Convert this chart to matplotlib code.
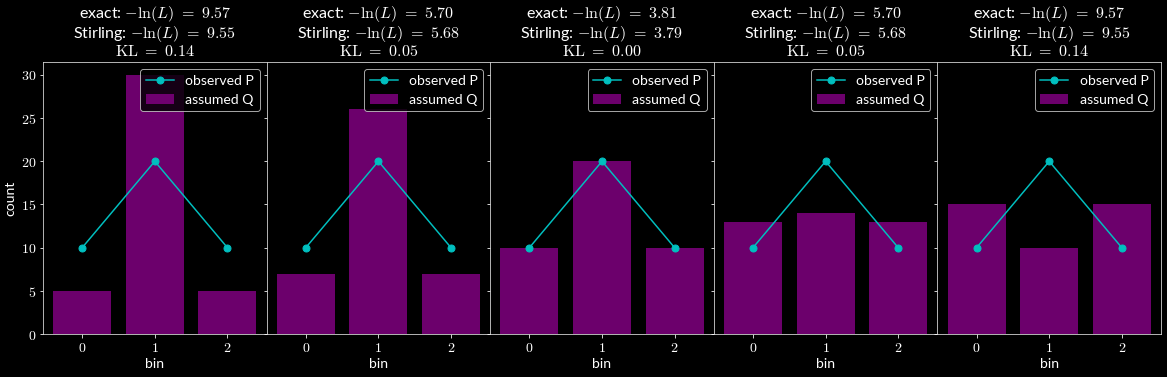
import matplotlib
matplotlib.use("Agg")
import matplotlib.pyplot as plt
from matplotlib.ticker import FuncFormatter
import numpy as np

plt.style.use("dark_background")
plt.rcParams["mathtext.fontset"] = "cm"
plt.rcParams["font.family"] = ["Lato", "DejaVu Sans"]

bins = [0, 1, 2]
observed_P = [10, 20, 10]
assumed_Q = [
    [5, 30, 5],
    [7, 26, 7],
    [10, 20, 10],
    [13, 14, 13],
    [15, 10, 15],
]
exact_nll = ["9.57", "5.70", "3.81", "5.70", "9.57"]
stirling_nll = ["9.55", "5.68", "3.79", "5.68", "9.55"]
kl_vals = ["0.14", "0.05", "0.00", "0.05", "0.14"]

fig, axes = plt.subplots(1, 5, figsize=(1167 / 72, 377 / 72), dpi=72, sharey=True)
fig.subplots_adjust(left=43 / 1167, right=1161 / 1167, top=1 - 62 / 377,
                    bottom=1 - 334 / 377, wspace=0)

mathfmt = FuncFormatter(lambda v, pos: f"${v:g}$")

for i, ax in enumerate(axes):
    ax.bar(bins, assumed_Q[i], width=0.8, color="purple", alpha=0.85, label="assumed Q")
    ax.plot(bins, observed_P, "-o", color="c", markersize=7, linewidth=1.5, label="observed P")
    ax.set_xticks(bins)
    ax.xaxis.set_major_formatter(mathfmt)
    ax.yaxis.set_major_formatter(mathfmt)
    ax.set_xlabel("bin", fontsize=14)
    ax.set_title(f"exact: $-\\ln(L)\\ =\\ {exact_nll[i]}$\n"
                 f"Stirling: $-\\ln(L)\\ =\\ {stirling_nll[i]}$\n"
                 f"$\\mathrm{{KL}}\\ =\\ {kl_vals[i]}$", fontsize=16, linespacing=1.0)
    ax.tick_params(labelsize=14)
    ax.legend(loc="upper right", fontsize=14, handlelength=2.0)
    for s in ax.spines.values():
        s.set_color("#dddddd")

axes[0].set_ylabel("count", fontsize=14)
axes[0].set_ylim(0, 31.5)

fig.savefig("out.png", dpi=72)
